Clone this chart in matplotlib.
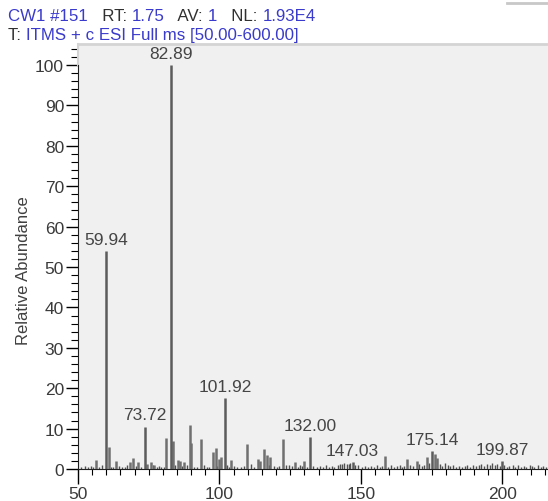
import matplotlib
matplotlib.use("Agg")
import matplotlib.pyplot as plt
from matplotlib.ticker import MultipleLocator
from matplotlib.lines import Line2D

plt.rcParams['font.family'] = ['Liberation Sans', 'DejaVu Sans']

# labelled peaks (m/z, relative abundance)
label_mz = [59.94, 73.72, 82.89, 101.92, 132.00, 147.03, 175.14, 199.87]
label_int = [54.0, 10.5, 100.0, 17.5, 8.0, 1.8, 4.5, 2.0]

# other visible peaks
other_mz = [56.4, 60.9, 63.3, 68.4, 69.6, 71.3, 74.5, 75.7, 77.0, 81.1,
            83.7, 85.2, 86.0, 87.6, 89.6, 90.0, 93.5, 97.6, 98.6, 99.9,
            100.6, 104.0, 109.8, 113.7, 114.5, 115.8, 116.7, 118.0, 122.3, 126.7,
            130.0, 158.5, 166.1, 169.7, 173.2, 176.0, 176.8]
other_int = [2.2, 5.5, 2.0, 1.7, 2.7, 1.8, 1.3, 1.7, 1.0, 7.8,
             7.0, 2.2, 2.0, 1.8, 10.8, 6.5, 7.4, 4.3, 5.2, 2.5,
             3.0, 2.2, 6.2, 2.5, 2.0, 5.0, 3.5, 3.0, 7.4, 1.7,
             2.0, 3.3, 2.5, 2.0, 2.9, 3.8, 2.7]

# baseline noise
noise_peaks = [
    (51.2, 0.5), (52.5, 0.8), (53.4, 0.4), (54.6, 0.7), (55.3, 0.5), (57.5, 0.6),
    (58.4, 0.9), (61.8, 0.6), (62.5, 0.4), (64.4, 0.7), (65.6, 0.5), (66.5, 0.6),
    (67.4, 0.9), (70.5, 0.8), (72.1, 0.6), (76.4, 0.9), (77.8, 0.5), (78.6, 0.7),
    (79.5, 0.4), (80.3, 0.6), (84.4, 0.9), (86.8, 0.7), (88.5, 1.0), (91.0, 0.6),
    (92.2, 0.5), (94.6, 0.9), (95.5, 0.6), (96.4, 0.5), (99.2, 0.8), (102.8, 0.9),
    (103.4, 0.6), (105.2, 0.7), (106.3, 0.5), (107.5, 0.6), (108.6, 0.8), (111.0, 1.2),
    (112.2, 0.6), (117.4, 1.0), (119.2, 0.8), (120.3, 0.5), (121.2, 0.7), (123.4, 0.9),
    (124.6, 1.1), (125.5, 0.8), (127.8, 0.6), (128.6, 1.0), (129.3, 0.7), (131.0, 0.5),
    (133.2, 0.8), (134.5, 0.5), (135.6, 0.7), (136.7, 0.6), (137.6, 0.9), (138.8, 0.5),
    (139.7, 0.7), (140.6, 0.6), (141.8, 1.0), (142.5, 1.3), (143.3, 1.2), (144.1, 1.4),
    (144.9, 1.3), (145.6, 1.2), (146.3, 1.5), (147.9, 1.1), (149.0, 0.9), (150.2, 0.6),
    (151.4, 0.8), (152.6, 0.5), (153.5, 0.7), (154.7, 0.6), (155.8, 0.9), (156.6, 0.5),
    (157.5, 0.7), (159.6, 0.6), (160.7, 0.9), (161.8, 0.5), (162.6, 0.8), (163.7, 1.0),
    (164.6, 0.6), (165.3, 0.7), (167.2, 1.1), (168.4, 0.7), (170.6, 1.2), (171.5, 0.8),
    (172.3, 1.0), (174.2, 1.5), (177.8, 1.3), (178.7, 0.8), (179.8, 1.6), (180.6, 0.9),
    (181.5, 0.7), (182.4, 1.0), (183.6, 0.6), (184.5, 0.8), (185.7, 0.5), (186.6, 0.7),
    (187.5, 0.9), (188.7, 0.6), (189.6, 1.0), (190.5, 0.7), (191.6, 1.1), (192.4, 1.2),
    (193.5, 0.8), (194.6, 1.3), (195.5, 1.1), (196.3, 1.4), (197.2, 1.0), (198.1, 1.2),
    (199.0, 0.8), (200.6, 1.0), (201.5, 0.6), (202.4, 0.8), (203.6, 1.1), (204.5, 0.6),
    (205.4, 0.9), (206.6, 0.5), (207.5, 0.8), (208.4, 0.6), (209.6, 1.0), (210.5, 0.7),
    (211.3, 0.5), (212.6, 0.9), (213.5, 0.6), (214.4, 0.8), (215.5, 0.6),
]
noise_mz = [p[0] for p in noise_peaks]
noise_int = [p[1] for p in noise_peaks]

fig = plt.figure(figsize=(5.48, 5.02), dpi=100)
ax = fig.add_axes([0.1423, 0.0637, 0.8577, 0.8466])
ax.set_facecolor('#f0f0f0')

ax.vlines(noise_mz, 0, noise_int, color='#505050', linewidth=1.0)
ax.vlines(other_mz, 0, other_int, color='#707070', linewidth=1.8)
ax.vlines(label_mz, 0, label_int, color='#5c5c5c', linewidth=1.8)

for mz, h in zip(label_mz, label_int):
    ax.annotate(f"{mz:.2f}", (mz, h), xytext=(0, 3), textcoords='offset points',
                ha='center', va='bottom', fontsize=12.5, color='#454545')

ax.set_xlim(50, 216.1)
ax.set_ylim(0, 105.2)

ax.xaxis.set_major_locator(MultipleLocator(50))
ax.xaxis.set_minor_locator(MultipleLocator(5))
ax.yaxis.set_major_locator(MultipleLocator(10))
ax.yaxis.set_minor_locator(MultipleLocator(2))
ax.tick_params(axis='x', which='major', direction='out', length=11, width=1,
               labelsize=12.5, labelcolor='#3a3a3a', pad=1)
ax.tick_params(axis='x', which='minor', direction='out', length=4, width=0.8)
ax.tick_params(axis='y', which='major', direction='out', length=9, width=1,
               labelsize=12.5, labelcolor='#3a3a3a', pad=1)
ax.tick_params(axis='y', which='minor', direction='out', length=5, width=0.8)

ax.spines['right'].set_visible(False)
ax.spines['top'].set_color('#d4d4d4')
ax.spines['top'].set_linewidth(2)
ax.spines['left'].set_bounds(0, 100)
ax.spines['left'].set_color('#202020')
ax.spines['bottom'].set_color('#202020')
ax.plot([50, 50], [100, 105.2], color='#d4d4d4', linewidth=1.5, clip_on=False)

ax.set_ylabel('Relative Abundance', fontsize=12, color='#404040', labelpad=4)
ax.yaxis.set_label_coords(-0.1, 0.47)

# header lines
blue = '#3a3acc'
dark = '#303030'
renderer = fig.canvas.get_renderer()
parts1 = [("CW1 #151", blue), ("   RT: ", dark), ("1.75", blue), ("   AV: ", dark),
          ("1", blue), ("   NL: ", dark), ("1.93E4", blue)]
parts2 = [("T: ", dark), ("ITMS + c ESI Full ms [50.00-600.00]", blue)]
for ypos, parts in [(0.968, parts1), (0.929, parts2)]:
    x = 8 / 548
    for txt, col in parts:
        t = fig.text(x, ypos, txt, color=col, fontsize=12.2, ha='left', va='center')
        bb = t.get_window_extent(renderer=renderer)
        x += bb.width / fig.bbox.width

fig.add_artist(Line2D([507 / 548, 1.0], [0.992, 0.992], color='#c8c8c8', linewidth=2))

fig.savefig('out.png', dpi=100)
